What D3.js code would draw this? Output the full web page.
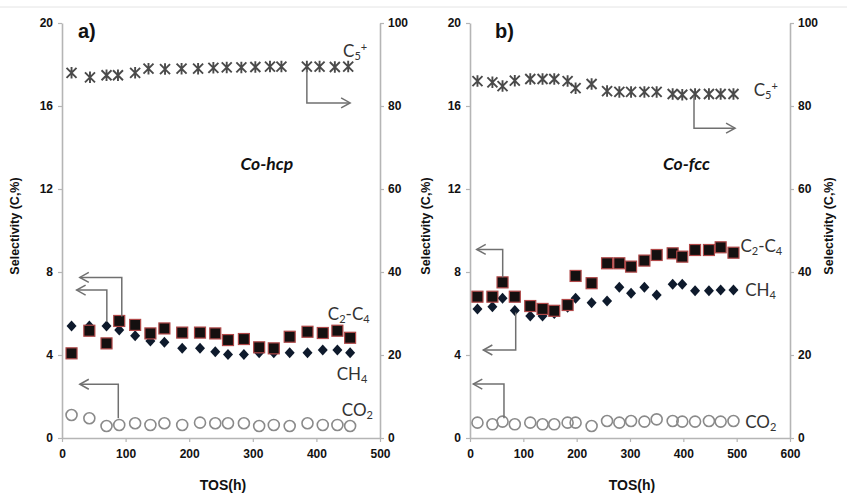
<!DOCTYPE html>
<html><head><meta charset="utf-8">
<script src="https://cdn.jsdelivr.net/npm/d3@7/dist/d3.min.js"></script>
<style>
body{margin:0;background:#fff;}
svg{display:block;}
.tick text{font-family:"Liberation Sans Narrow","Arial Narrow","Liberation Sans",Arial,sans-serif;font-weight:bold;font-size:12px;fill:#111;}
</style></head>
<body>
<script>
// ---------- DATA ----------
// Panel a (Co-hcp)
const tA   = [15, 43, 70, 90, 115, 139, 161, 189, 217, 241, 261, 286, 310, 333, 358, 386, 410, 433, 453];
const ch4A = [5.40, 5.40, 5.40, 5.20, 4.93, 4.67, 4.61, 4.32, 4.32, 4.16, 4.03, 4.03, 4.11, 4.11, 4.11, 4.11, 4.24, 4.24, 4.11];
const c24A = [4.08, 5.17, 4.56, 5.64, 5.45, 5.04, 5.28, 5.08, 5.08, 5.04, 4.72, 4.77, 4.37, 4.32, 4.88, 5.12, 5.06, 5.17, 4.83];
const co2A = [1.11, 0.95, 0.58, 0.63, 0.71, 0.63, 0.71, 0.63, 0.74, 0.71, 0.71, 0.71, 0.58, 0.63, 0.58, 0.71, 0.63, 0.63, 0.58];
const tA5  = [15, 44, 70, 88, 115, 136, 162, 188, 214, 238, 259, 282, 304, 327, 345, 385, 405, 429, 450];
const c5A  = [88.0, 86.9, 87.4, 87.4, 88.0, 89.0, 88.9, 89.0, 89.0, 89.2, 89.3, 89.3, 89.4, 89.5, 89.5, 89.5, 89.5, 89.4, 89.5];

// Panel b (Co-fcc)
const tB   = [14, 42, 61, 84, 113, 136, 158, 183, 198, 228, 257, 280, 302, 327, 350, 380, 398, 422, 448, 470, 494];
const c24B = [6.81, 6.81, 7.50, 6.81, 6.36, 6.22, 6.13, 6.41, 7.81, 7.46, 8.42, 8.42, 8.26, 8.55, 8.82, 8.90, 8.74, 9.06, 9.06, 9.19, 8.93];
const ch4B = [6.22, 6.33, 6.73, 6.14, 5.88, 5.88, 6.00, 6.30, 6.73, 6.52, 6.60, 7.26, 6.97, 7.26, 6.89, 7.41, 7.41, 7.10, 7.10, 7.13, 7.13];
const co2B = [0.74, 0.66, 0.79, 0.66, 0.74, 0.66, 0.66, 0.74, 0.74, 0.58, 0.82, 0.74, 0.82, 0.79, 0.90, 0.82, 0.79, 0.79, 0.82, 0.79, 0.82];
const c5B  = [86.0, 85.7, 84.8, 86.1, 86.5, 86.5, 86.5, 86.0, 84.3, 85.3, 83.6, 83.4, 83.4, 83.4, 83.4, 82.9, 82.7, 82.9, 82.9, 82.9, 82.9];

const leftTicks  = [0, 4, 8, 12, 16, 20];
const rightTicks = [0, 20, 40, 60, 80, 100];
const xTicksA = [0, 100, 200, 300, 400, 500];
const xTicksB = [0, 100, 200, 300, 400, 500, 600];
const yTitle = "Selectivity (C,%)";
const xTitle = "TOS(h)";

// arrows: [t, leftValue] polylines, arrowhead at last point
const arrowsA = [
  [[385, 17.75], [385, 16.15], [453, 16.15]],
  [[94, 5.85], [94, 7.74], [28, 7.74]],
  [[70.5, 5.6], [70.5, 7.13], [23, 7.13]],
  [[88.5, 0.95], [88.5, 2.59], [28, 2.59]]
];
const arrowsB = [
  [[420, 16.5], [420, 14.93], [497, 14.93]],
  [[61.3, 7.75], [61.3, 9.09], [12.6, 9.09]],
  [[85.7, 6.05], [85.7, 4.24], [25, 4.24]],
  [[63.7, 0.95], [63.7, 2.60], [6.2, 2.60]]
];

// ---------- DRAW ----------
const W = 847, H = 495;
const svg = d3.select("body").append("svg").attr("width", W).attr("height", H);
svg.append("line").attr("x1", 0).attr("x2", W).attr("y1", 7).attr("y2", 7)
  .attr("stroke", "#e4e4e4").attr("stroke-width", 1);

const axisColor = "#b5b5b5";
const labelFont = "Lato, 'Open Sans', 'Liberation Sans', sans-serif";

function starPath(s) {
  return `M${-s},${-s}L${s},${s}M${-s},${s}L${s},${-s}M0,${-s*1.15}L0,${s*1.15}`;
}

function panel(cfg) {
  const x = d3.scaleLinear().domain([0, cfg.xmax]).range([cfg.x0, cfg.x1]);
  const yL = d3.scaleLinear().domain([0, 20]).range([438, 23]);
  const yR = d3.scaleLinear().domain([0, 100]).range([438, 23]);
  const g = svg.append("g");

  const styleAxis = sel => {
    sel.select(".domain").attr("stroke", axisColor).attr("stroke-width", 1.6);
    sel.selectAll(".tick line").attr("stroke", axisColor).attr("stroke-width", 1.2);
  };
  g.append("g").attr("transform", `translate(${cfg.x0},0)`)
    .call(d3.axisLeft(yL).tickValues(leftTicks).tickSize(4).tickPadding(5).tickSizeOuter(0)).call(styleAxis);
  g.append("g").attr("transform", `translate(${cfg.x1},0)`)
    .call(d3.axisRight(yR).tickValues(rightTicks).tickSize(4).tickPadding(4).tickSizeOuter(0)).call(styleAxis);
  g.append("g").attr("transform", `translate(0,438)`)
    .call(d3.axisBottom(x).tickValues(cfg.xticks).tickSize(4).tickPadding(7).tickSizeOuter(0)).call(styleAxis);

  const titleStyle = t => t.attr("font-family", "'Liberation Sans Narrow','Arial Narrow','Liberation Sans',Arial,sans-serif")
    .attr("font-weight", "bold").attr("font-size", 12.5).attr("fill", "#111").attr("text-anchor", "middle");
  g.append("text").attr("transform", `translate(${cfg.yTitleL},226) rotate(-90)`).text(yTitle).call(titleStyle);
  if (cfg.yTitleR) g.append("text").attr("transform", `translate(${cfg.yTitleR},226) rotate(-90)`).text(yTitle).call(titleStyle);
  g.append("text").attr("x", (cfg.x0 + cfg.x1) / 2 + 2).attr("y", 490).text(xTitle).call(titleStyle).attr("font-size", 14);

  // CO2 circles
  g.selectAll(".co2").data(cfg.co2).join("circle")
    .attr("cx", (d, i) => x(cfg.t[i])).attr("cy", d => yL(d)).attr("r", 5.5)
    .attr("fill", "none").attr("stroke", "#8a8a8a").attr("stroke-width", 1.6);
  // CH4 diamonds
  g.selectAll(".ch4").data(cfg.ch4).join("path")
    .attr("transform", (d, i) => `translate(${x(cfg.t[i])},${yL(d)})`)
    .attr("d", "M0,-5.5L5,0L0,5.5L-5,0Z").attr("fill", "#0e1a2c");
  // C2-C4 squares
  g.selectAll(".c24").data(cfg.c24).join("rect")
    .attr("x", (d, i) => x(cfg.t[i]) - 5.5).attr("y", d => yL(d) - 5.5)
    .attr("width", 11).attr("height", 11)
    .attr("fill", "#141010").attr("stroke", "#b04848").attr("stroke-width", 1.2);
  // C5+ stars
  g.selectAll(".c5").data(cfg.c5).join("path")
    .attr("transform", (d, i) => `translate(${x(cfg.t5[i])},${yR(d)})`)
    .attr("d", starPath(5)).attr("fill", "none").attr("stroke", "#4a4a4a").attr("stroke-width", 1.9);

  // arrows
  cfg.arrows.forEach(a => {
    const pts = a.map(p => [x(p[0]), yL(p[1])]);
    g.append("path").attr("d", d3.line()(pts)).attr("fill", "none").attr("stroke", "#707070").attr("stroke-width", 1.5);
    const [p1, p2] = [pts[pts.length - 2], pts[pts.length - 1]];
    const ang = Math.atan2(p2[1] - p1[1], p2[0] - p1[0]);
    const L = 9, Wd = 5;
    const bx = p2[0] - L * Math.cos(ang), by = p2[1] - L * Math.sin(ang);
    const hp = [[bx - Wd * Math.sin(ang), by + Wd * Math.cos(ang)], p2, [bx + Wd * Math.sin(ang), by - Wd * Math.cos(ang)]];
    g.append("path").attr("d", d3.line()(hp)).attr("fill", "none").attr("stroke", "#707070").attr("stroke-width", 1.5);
  });

  // labels
  const lab = (t, yv, parts) => {
    const tx = g.append("text").attr("x", x(t)).attr("y", yL(yv))
      .attr("font-family", labelFont).attr("font-size", 17).attr("fill", "#333");
    parts.forEach(p => {
      const s = tx.append("tspan").text(p[0]);
      if (p[1] === "sub") s.attr("font-size", 11).attr("dy", 3);
      if (p[1] === "sup") s.attr("font-size", 11).attr("dy", -9);
      if (p[1] === "reset") s.attr("dy", p[2]);
    });
  };
  const L = cfg.labels;
  lab(L.c5[0], L.c5[1], [["C"], ["5", "sub"], ["+", "sup"]]);
  lab(L.c24[0], L.c24[1], [["C"], ["2", "sub"], ["-", "reset", -3], ["C"], ["4", "sub"]]);
  lab(L.ch4[0], L.ch4[1], [["CH"], ["4", "sub"]]);
  lab(L.co2[0], L.co2[1], [["CO"], ["2", "sub"]]);

  g.append("text").attr("x", x(cfg.name[0])).attr("y", yL(cfg.name[1])).text(cfg.name[2])
    .attr("font-family", labelFont).attr("font-weight", "bold").attr("font-style", "italic")
    .attr("font-size", 17.5).attr("fill", "#111").attr("text-anchor", "middle");
  g.append("text").attr("x", x(cfg.tag[0])).attr("y", yL(cfg.tag[1])).text(cfg.tag[2])
    .attr("font-family", "'Liberation Sans',Arial,sans-serif").attr("font-weight", "bold")
    .attr("font-size", 20).attr("fill", "#111");
}

panel({
  x0: 62, x1: 380, xmax: 500, xticks: xTicksA, yTitleL: 19, yTitleR: null,
  t: tA, t5: tA5, ch4: ch4A, c24: c24A, co2: co2A, c5: c5A, arrows: arrowsA,
  labels: { c5: [442, 18.35], c24: [418, 5.7], ch4: [432, 2.8], co2: [440, 1.05] },
  name: [322, 12.9, "Co-hcp"], tag: [25, 19.3, "a)"]
});
panel({
  x0: 470, x1: 790, xmax: 600, xticks: xTicksB, yTitleL: 430, yTitleR: 833,
  t: tB, t5: tB, ch4: ch4B, c24: c24B, co2: co2B, c5: c5B, arrows: arrowsB,
  labels: { c5: [532, 16.5], c24: [507, 8.97], ch4: [516, 6.84], co2: [516, 0.48] },
  name: [406, 12.9, "Co-fcc"], tag: [47, 19.3, "b)"]
});
</script>
</body></html>
